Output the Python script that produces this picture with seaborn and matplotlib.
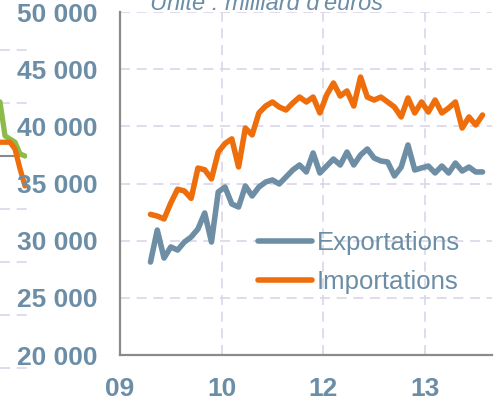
import matplotlib
matplotlib.use("Agg")
import matplotlib.pyplot as plt
import pandas as pd
import seaborn as sns

# monthly values (millions of euros), index 0..49
exportations = [
    28130, 30930, 28480, 29450, 29180, 29880, 30320, 31020, 32420, 29880,
    34260, 34690, 33210, 32940, 34780, 33910, 34690, 35130, 35310, 34960,
    35570, 36180, 36620, 36010, 37670, 35920, 36530, 37140, 36620, 37750,
    36620, 37490, 38020, 37230, 36970, 36880, 35660, 36440, 38370, 36180,
    36360, 36530, 35920, 36530, 35920, 36790, 36090, 36440, 36010, 36010,
]
importations = [
    32300, 32150, 31900, 33300, 34500, 34350, 33700, 36350, 36200, 35400,
    37750, 38500, 38900, 36450, 39850, 39250, 41170, 41780, 42130, 41690,
    41430, 42040, 42560, 42130, 42560, 41170, 42740, 43790, 42650, 43090,
    41780, 44310, 42560, 42300, 42560, 42130, 41690, 40820, 42480, 41170,
    42130, 41250, 42300, 41170, 41600, 42130, 39850, 40820, 40120, 40990,
]
series_names = ["Exportations", "Importations"]
x_tick_pos = [-4.5, 10.5, 25.5, 40.5]
x_tick_labels = ["09", "10", "12", "13"]
y_ticks = [20000, 25000, 30000, 35000, 40000, 45000, 50000]
y_tick_labels = ["20 000", "25 000", "30 000", "35 000", "40 000", "45 000", "50 000"]

# tail of the neighbouring chart, cut by the left edge
left_green = [45100, 41900, 41600, 41300, 40200, 40000]
left_orange = [41300, 41300, 41300, 40660, 38800, 37170]
left_grid = [20000, 25000, 30000, 35000, 45000, 50000]

BLUE = "#6e8ea5"
ORANGE = "#ee6e0c"
TEXT = "#6b8ea6"
GRID = "#dcd5e8"
SPINE = "#8a8a8a"

sns.set_theme(style="white")
plt.rcParams["font.family"] = ["Liberation Sans", "DejaVu Sans"]

n = len(exportations)
df = pd.DataFrame({
    "mois": list(range(n)) * 2,
    "valeur": exportations + importations,
    "serie": [series_names[0]] * n + [series_names[1]] * n,
})

fig = plt.figure(figsize=(4.97, 4.15), dpi=100)

# neighbouring chart fragment
ax0 = fig.add_axes([0, 0, 27 / 497, 1.0])
ax0.set_xlim(0, 5.4)
ax0.set_ylim(20000 - 5000 * (415 - 368) / 53, 20000 + 5000 * 368 / 53)
for v in left_grid:
    ax0.axhline(v, color=GRID, lw=1.2, dashes=(6, 4))
ax0.axhline(40000, color=SPINE, lw=1.5)
sns.lineplot(x=list(range(len(left_green))), y=left_green, ax=ax0, color="#8dbb4a", lw=3.8)
sns.lineplot(x=list(range(len(left_orange))), y=left_orange, ax=ax0, color=ORANGE, lw=3.8)
ax0.axis("off")

ax = fig.add_axes([120 / 497, 1 - 355 / 415, 372 / 497, 343 / 415])
sns.lineplot(
    data=df, x="mois", y="valeur", hue="serie",
    palette={series_names[0]: BLUE, series_names[1]: ORANGE},
    linewidth=4.0, ax=ax, legend=False,
)
for line in ax.lines:
    line.set_solid_joinstyle("round")
    line.set_solid_capstyle("round")

ax.set_xlim(-4.5, 50.4)
ax.set_ylim(20000, 50000)
ax.set_xticks(x_tick_pos)
ax.set_xticklabels(x_tick_labels)
ax.set_yticks(y_ticks)
ax.set_yticklabels(y_tick_labels)
ax.set_xlabel("")
ax.set_ylabel("")

ax.grid(True, color=GRID, lw=1.2, dashes=(6, 4))
ax.set_axisbelow(True)
for side in ["top", "right"]:
    ax.spines[side].set_visible(False)
for side in ["left", "bottom"]:
    ax.spines[side].set_color(SPINE)
    ax.spines[side].set_linewidth(1.6)
ax.tick_params(axis="both", length=6, width=1.5, color=SPINE, direction="out",
               labelsize=19, labelcolor=TEXT)
ax.tick_params(axis="y", pad=10)
ax.tick_params(axis="x", pad=10)
for lab in ax.get_xticklabels() + ax.get_yticklabels():
    lab.set_fontweight("bold")

handles = ax.lines[:2]
leg = ax.legend(
    handles, series_names, loc="upper left",
    bbox_to_anchor=(258 / 497, 1 - 231 / 415), bbox_transform=fig.transFigure,
    frameon=False, fontsize=18.5, handlelength=2.1, handletextpad=0.2,
    labelspacing=0.6, borderpad=0, borderaxespad=0,
)
for t in leg.get_texts():
    t.set_color(TEXT)

fig.text(150 / 497, 1 - 10 / 415, "Unité : milliard d'euros", fontsize=17,
         style="italic", color=TEXT, va="baseline", ha="left")

fig.savefig("out.png", dpi=100)
